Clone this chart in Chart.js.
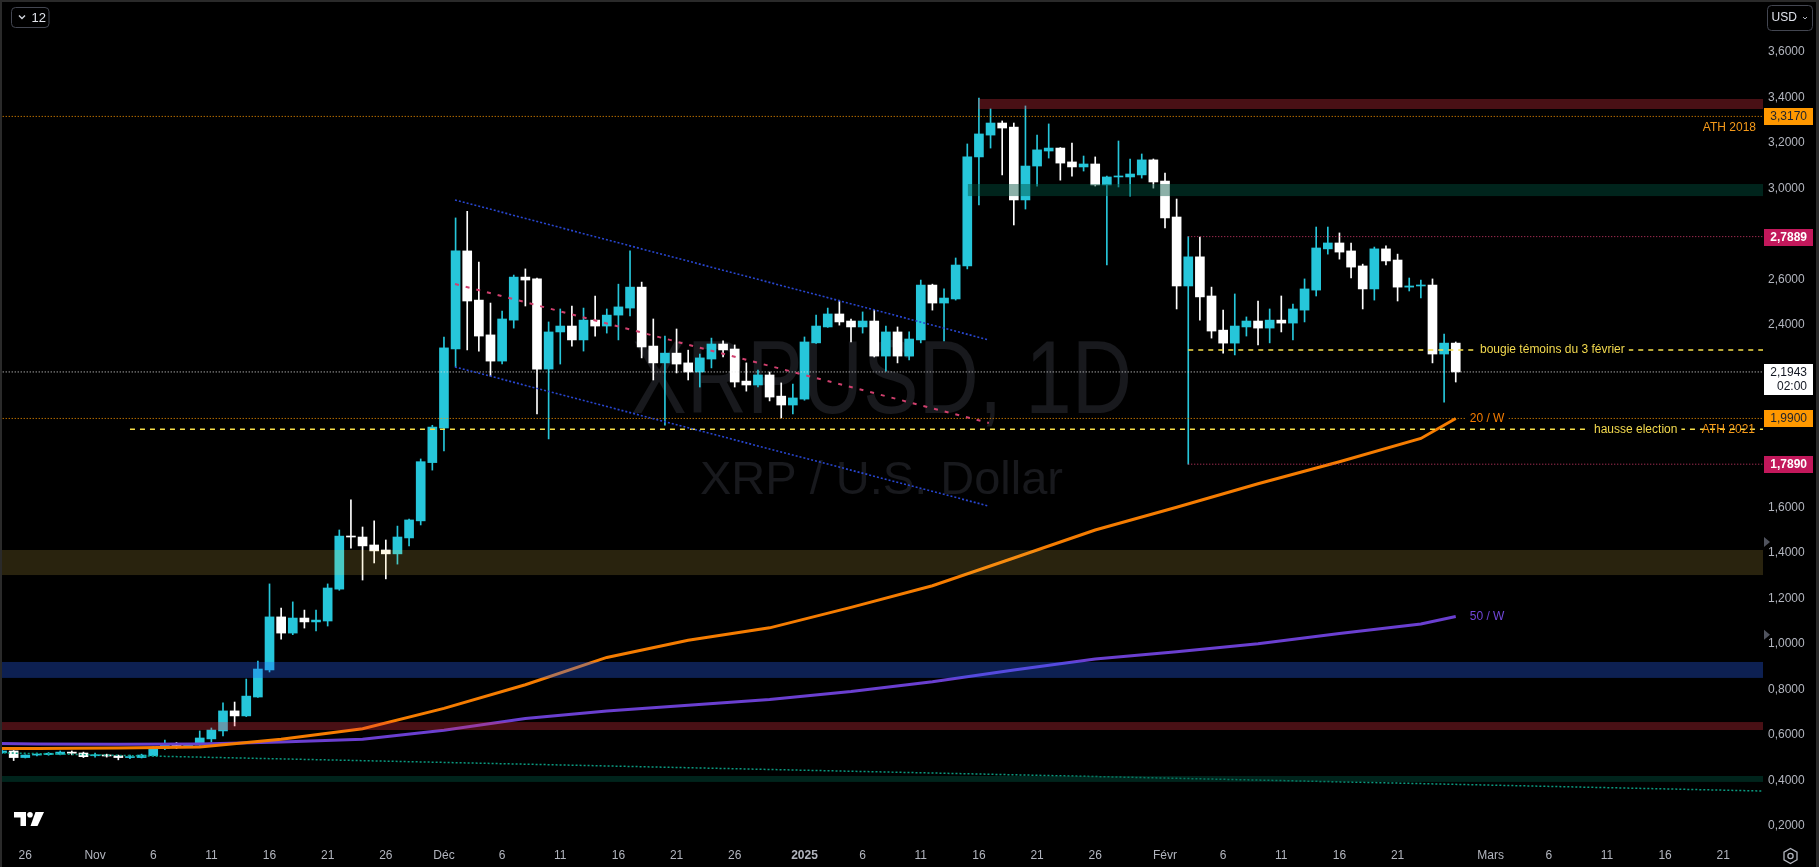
<!DOCTYPE html>
<html>
<head>
<meta charset="utf-8">
<title>XRPUSD 1D</title>
<script src="https://cdn.jsdelivr.net/npm/chart.js@4.4.1/dist/chart.umd.min.js"></script>
<style>
  html, body { margin: 0; padding: 0; background: #000; overflow: hidden; }
  #chart { display: block; }
</style>
</head>
<body>
<canvas id="chart" width="1819" height="867"></canvas>
<script>
// XRPUSD daily, day 0 = 26 oct. 2024 (first candle = 24 oct.)
const firstDay = -2;

const opens = [
  0.521, 0.529, 0.500, 0.511, 0.513, 0.514, 0.524, 0.520, 0.508, 0.511,
  0.508, 0.500, 0.500, 0.508, 0.540, 0.558, 0.549, 0.555, 0.582, 0.617,
  0.705, 0.683, 0.766, 0.885, 1.118, 1.047, 1.113, 1.096, 1.100, 1.240,
  1.473, 1.469, 1.434, 1.412, 1.395, 1.465, 1.540, 1.796, 1.948, 2.296,
  2.726, 2.510, 2.357, 2.242, 2.422, 2.611, 2.603, 2.207, 2.370, 2.396,
  2.335, 2.422, 2.396, 2.444, 2.475, 2.567, 2.308, 2.234, 2.277, 2.234,
  2.194, 2.251, 2.317, 2.295, 2.154, 2.137, 2.181, 2.088, 2.049, 2.075,
  2.322, 2.392, 2.449, 2.418, 2.392, 2.418, 2.264, 2.370, 2.264, 2.335,
  2.576, 2.497, 2.515, 2.660, 3.139, 3.235, 3.288, 3.270, 2.950, 3.099,
  3.165, 3.178, 3.117, 3.095, 3.108, 3.016, 3.051, 3.051, 3.060, 3.126,
  3.033, 2.875, 2.572, 2.700, 2.528, 2.378, 2.321, 2.392, 2.418, 2.387,
  2.422, 2.409, 2.466, 2.554, 2.735, 2.761, 2.726, 2.660, 2.559, 2.735,
  2.686, 2.567, 2.572, 2.576, 2.273, 2.321
];
const highs = [
  0.532, 0.531, 0.512, 0.520, 0.522, 0.529, 0.529, 0.524, 0.520, 0.515,
  0.511, 0.511, 0.515, 0.548, 0.577, 0.566, 0.562, 0.617, 0.630, 0.740,
  0.744, 0.845, 0.924, 1.263, 1.157, 1.184, 1.148, 1.148, 1.263, 1.500,
  1.632, 1.513, 1.540, 1.456, 1.517, 1.548, 1.812, 1.960, 2.348, 2.871,
  2.900, 2.677, 2.497, 2.462, 2.620, 2.647, 2.607, 2.414, 2.471, 2.484,
  2.475, 2.528, 2.471, 2.580, 2.726, 2.589, 2.427, 2.352, 2.383, 2.290,
  2.273, 2.343, 2.331, 2.313, 2.234, 2.203, 2.194, 2.146, 2.141, 2.348,
  2.444, 2.475, 2.506, 2.427, 2.458, 2.466, 2.396, 2.392, 2.370, 2.598,
  2.580, 2.559, 2.695, 3.196, 3.398, 3.350, 3.297, 3.288, 3.363, 3.235,
  3.284, 3.180, 3.200, 3.143, 3.139, 3.055, 3.209, 3.130, 3.152, 3.130,
  3.068, 2.954, 2.7889, 2.787, 2.567, 2.466, 2.537, 2.436, 2.506, 2.471,
  2.528, 2.493, 2.603, 2.831, 2.831, 2.805, 2.761, 2.668, 2.743, 2.748,
  2.712, 2.607, 2.598, 2.603, 2.361, 2.326
];
const lows = [
  0.518, 0.487, 0.498, 0.507, 0.510, 0.512, 0.512, 0.500, 0.502, 0.502,
  0.490, 0.495, 0.498, 0.506, 0.535, 0.540, 0.545, 0.553, 0.568, 0.595,
  0.639, 0.680, 0.764, 0.876, 1.020, 1.040, 1.069, 1.056, 1.078, 1.235,
  1.420, 1.280, 1.355, 1.285, 1.350, 1.430, 1.522, 1.763, 1.847, 2.216,
  2.291, 2.286, 2.176, 2.229, 2.387, 2.484, 2.010, 1.900, 2.229, 2.308,
  2.286, 2.352, 2.365, 2.335, 2.440, 2.256, 2.159, 1.960, 2.190, 2.159,
  2.128, 2.212, 2.260, 2.128, 2.110, 2.128, 2.067, 1.992, 2.010, 2.070,
  2.320, 2.390, 2.400, 2.326, 2.365, 2.260, 2.198, 2.234, 2.247, 2.322,
  2.466, 2.331, 2.510, 2.647, 2.928, 3.178, 3.060, 2.840, 2.910, 3.011,
  3.134, 3.037, 3.055, 3.077, 3.011, 2.664, 3.007, 2.967, 3.046, 3.002,
  2.827, 2.471, 1.789, 2.422, 2.343, 2.277, 2.269, 2.352, 2.313, 2.322,
  2.370, 2.335, 2.414, 2.528, 2.712, 2.690, 2.607, 2.471, 2.510, 2.664,
  2.506, 2.550, 2.519, 2.234, 2.062, 2.150
];
const closes = [
  0.529, 0.500, 0.511, 0.515, 0.519, 0.524, 0.519, 0.504, 0.512, 0.507,
  0.500, 0.504, 0.511, 0.543, 0.555, 0.553, 0.560, 0.586, 0.621, 0.705,
  0.683, 0.770, 0.889, 1.118, 1.047, 1.113, 1.096, 1.104, 1.245, 1.473,
  1.469, 1.430, 1.408, 1.395, 1.469, 1.544, 1.800, 1.952, 2.300, 2.726,
  2.506, 2.352, 2.242, 2.427, 2.611, 2.598, 2.207, 2.370, 2.396, 2.335,
  2.422, 2.396, 2.444, 2.480, 2.567, 2.304, 2.234, 2.277, 2.229, 2.194,
  2.256, 2.317, 2.291, 2.150, 2.137, 2.181, 2.084, 2.049, 2.080, 2.326,
  2.396, 2.449, 2.414, 2.392, 2.418, 2.264, 2.370, 2.264, 2.339, 2.576,
  2.497, 2.519, 2.664, 3.139, 3.240, 3.288, 3.266, 2.950, 3.099, 3.170,
  3.178, 3.112, 3.095, 3.108, 3.016, 3.051, 3.055, 3.064, 3.126, 3.029,
  2.871, 2.572, 2.700, 2.524, 2.374, 2.321, 2.396, 2.418, 2.387, 2.422,
  2.409, 2.471, 2.559, 2.739, 2.761, 2.721, 2.655, 2.559, 2.735, 2.682,
  2.567, 2.572, 2.576, 2.273, 2.321, 2.1943
];

// weekly moving averages (20 W / 50 W), one knot per week
const maDays = [-2.2, 1, 8, 15, 22, 29, 36, 43, 50, 57, 64, 71, 78, 85, 92, 99, 106, 113, 120, 123];
const ma20w = [0.540, 0.540, 0.542, 0.546, 0.580, 0.627, 0.716, 0.820, 0.940, 1.015, 1.070, 1.160, 1.255, 1.377, 1.500, 1.600, 1.703, 1.800, 1.902, 1.990];
const ma50w = [0.562, 0.560, 0.559, 0.560, 0.568, 0.580, 0.620, 0.672, 0.705, 0.730, 0.755, 0.790, 0.833, 0.885, 0.933, 0.965, 1.000, 1.045, 1.087, 1.120];

// descending channel (Dec 1 -> Jan 16)
const channelDays = [36.95, 82.85];
const channelUpper = [2.950, 2.335];
const channelMid = [2.581, 1.970];
const channelLower = [2.216, 1.605];

// long teal trend line
const trendDays = [-2.2, 149.4];
const trendPrices = [0.521, 0.353];

// horizontal levels : price, first day
const levelPrices = [3.317, 2.7889, 2.1943, 1.99, 1.789, 2.291, 1.942];
const levelStarts = [-2.2, 100, -2.2, -2.2, 100, 100, 9];

// zones : top, bottom, first day
const zoneTops = [3.3935, 3.020, 1.412, 0.920, 0.656, 0.419];
const zoneBottoms = [3.3496, 2.967, 1.302, 0.850, 0.621, 0.393];
const zoneStarts = [81.95, 81.05, -2.2, -2.2, -2.2, -2.2];

// axes
const xTickDays = [0, 6, 11, 16, 21, 26, 31, 36, 41, 46, 51, 56, 61, 67, 72, 77, 82, 87, 92, 98, 103, 108, 113, 118, 126, 131, 136, 141, 146];
const xTickLabels = ['26', 'Nov', '6', '11', '16', '21', '26', 'Déc', '6', '11', '16', '21', '26', '2025', '6', '11', '16', '21', '26', 'Févr', '6', '11', '16', '21', 'Mars', '6', '11', '16', '21'];
const yTickValues = [3.6, 3.4, 3.2, 3.0, 2.6, 2.4, 1.6, 1.4, 1.2, 1.0, 0.8, 0.6, 0.4, 0.2];
const scaleMarkers = [1.447, 1.04];

const FONT = '"Liberation Sans", Arial, sans-serif';
const UP = '#26c6da';
const DOWN = '#ffffff';
const levelStyles = [
  { color: '#ff9800', dash: [1, 2], width: 1 },
  { color: '#d23a6a', dash: [1, 2], width: 1 },
  { color: '#e8e8e8', dash: [1, 2], width: 1 },
  { color: '#ff9800', dash: [1, 2], width: 1 },
  { color: '#d23a6a', dash: [1, 2], width: 1 },
  { color: '#f7e04a', dash: [5, 5], width: 1.5 },
  { color: '#f7e04a', dash: [5, 5], width: 1.5 }
];
const zoneColors = [
  'rgba(242,54,69,0.30)', 'rgba(0,80,62,0.45)', 'rgba(255,220,90,0.16)',
  'rgba(41,98,255,0.32)', 'rgba(242,54,69,0.30)', 'rgba(0,80,62,0.45)'
];

const X_MIN = -2.175, X_MAX = 149.42;
const Y_MIN = 0.1378, Y_MAX = 3.8285;

const days = opens.map((_, i) => firstDay + i);
const candleColors = opens.map((o, i) => (closes[i] >= o ? UP : DOWN));
const fmt = v => v.toFixed(4).replace('.', ',');
const pts = (xs, ys) => xs.map((x, i) => ({ x: x, y: ys[i] }));

const datasets = [];

// drawings on top
datasets.push({ type: 'line', data: pts(channelDays, channelUpper), borderColor: '#2846d0', borderWidth: 1.6, borderDash: [2, 2], pointRadius: 0, order: 0 });
datasets.push({ type: 'line', data: pts(channelDays, channelLower), borderColor: '#2846d0', borderWidth: 1.6, borderDash: [2, 2], pointRadius: 0, order: 0 });
datasets.push({ type: 'line', data: pts(channelDays, channelMid), borderColor: '#d0406e', borderWidth: 2, borderDash: [4, 7], pointRadius: 0, order: 0 });
datasets.push({ type: 'line', data: pts(trendDays, trendPrices), borderColor: '#0a9a80', borderWidth: 1.5, borderDash: [2, 2], pointRadius: 0, order: 0 });
levelPrices.forEach((p, i) => {
  datasets.push({
    type: 'line',
    data: [{ x: levelStarts[i], y: p }, { x: X_MAX, y: p }],
    borderColor: levelStyles[i].color,
    borderWidth: levelStyles[i].width,
    borderDash: levelStyles[i].dash,
    pointRadius: 0,
    order: 0
  });
});

// moving averages
datasets.push({ type: 'line', data: pts(maDays, ma20w), borderColor: '#f57c00', borderWidth: 3, pointRadius: 0, order: 1 });
datasets.push({ type: 'line', data: pts(maDays, ma50w), borderColor: '#6a3fd0', borderWidth: 3, pointRadius: 0, order: 1 });

// candles : bodies + wicks
datasets.push({
  type: 'bar',
  data: days.map((d, i) => ({ x: d, y: [opens[i], closes[i]] })),
  backgroundColor: candleColors,
  barThickness: 9,
  minBarLength: 1,
  grouped: false,
  order: 2
});
datasets.push({
  type: 'bar',
  data: days.map((d, i) => ({ x: d, y: [lows[i], highs[i]] })),
  backgroundColor: candleColors,
  barThickness: 1,
  grouped: false,
  order: 3
});

function stretchedText(ctx, text, font, cx, baseline, targetWidth) {
  ctx.font = font;
  const w = ctx.measureText(text).width;
  ctx.save();
  ctx.translate(cx - targetWidth / 2, baseline);
  ctx.scale(targetWidth / w, 1);
  ctx.textAlign = 'left';
  ctx.textBaseline = 'alphabetic';
  ctx.fillText(text, 0, 0);
  ctx.restore();
}

function label(ctx, text, x, y, color, align, knockout) {
  ctx.font = '12px ' + FONT;
  ctx.textAlign = align;
  ctx.textBaseline = 'middle';
  if (knockout) {
    const w = ctx.measureText(text).width;
    const left = align === 'right' ? x - w : x;
    ctx.fillStyle = '#000';
    ctx.fillRect(left - 4, y - 6, w + 8, 12);
  }
  ctx.fillStyle = color;
  ctx.fillText(text, x, y);
}

function priceBox(ctx, area, y, text, bg, fg, bold) {
  ctx.fillStyle = bg;
  ctx.fillRect(area.right + 1, Math.round(y) - 8, 49, 17);
  ctx.fillStyle = fg;
  ctx.font = (bold ? 'bold ' : '') + '12px ' + FONT;
  ctx.textAlign = 'right';
  ctx.textBaseline = 'middle';
  ctx.fillText(text, area.right + 44, Math.round(y) + 0.5);
}

function roundRect(ctx, x, y, w, h, r) {
  ctx.beginPath();
  ctx.moveTo(x + r, y);
  ctx.arcTo(x + w, y, x + w, y + h, r);
  ctx.arcTo(x + w, y + h, x, y + h, r);
  ctx.arcTo(x, y + h, x, y, r);
  ctx.arcTo(x, y, x + w, y, r);
  ctx.closePath();
}

const overlay = {
  id: 'overlay',
  beforeDraw(chart) {
    const ctx = chart.ctx;
    ctx.save();
    ctx.fillStyle = '#000';
    ctx.fillRect(0, 0, chart.width, chart.height);
    ctx.restore();
  },
  beforeDatasetsDraw(chart) {
    const ctx = chart.ctx, a = chart.chartArea;
    const cx = (a.left + a.right) / 2, cy = (a.top + a.bottom) / 2;
    ctx.save();
    ctx.fillStyle = '#18191d';
    stretchedText(ctx, 'XRPUSD, 1D', '104px ' + FONT, cx, cy - 7, 501);
    stretchedText(ctx, 'XRP / U.S. Dollar', '46px ' + FONT, cx, cy + 74, 363);
    ctx.restore();
  },
  afterDatasetsDraw(chart) {
    const ctx = chart.ctx, a = chart.chartArea;
    const xs = chart.scales.x, ys = chart.scales.y;
    ctx.save();
    ctx.beginPath();
    ctx.rect(a.left, a.top, a.right - a.left, a.bottom - a.top);
    ctx.clip();
    zoneTops.forEach((top, i) => {
      const x0 = Math.max(a.left, xs.getPixelForValue(zoneStarts[i]));
      const y0 = ys.getPixelForValue(top);
      const y1 = ys.getPixelForValue(zoneBottoms[i]);
      ctx.fillStyle = zoneColors[i];
      ctx.fillRect(x0, y0, a.right - x0, y1 - y0);
    });
    ctx.restore();
  },
  afterDraw(chart) {
    const ctx = chart.ctx, a = chart.chartArea;
    const xs = chart.scales.x, ys = chart.scales.y;
    const lastX = xs.getPixelForValue(days[days.length - 1]);
    ctx.save();

    // annotations
    label(ctx, 'ATH 2018', a.right - 7, ys.getPixelForValue(levelPrices[0]) + 11, '#f59a1a', 'right', false);
    label(ctx, 'bougie témoins du 3 février', 1480, ys.getPixelForValue(levelPrices[5]), '#f2d94e', 'left', true);
    label(ctx, 'hausse election', 1594, ys.getPixelForValue(levelPrices[6]), '#f2d94e', 'left', true);
    label(ctx, 'ATH 2021', a.right - 8, ys.getPixelForValue(levelPrices[6]), '#f59a1a', 'right', false);
    label(ctx, '20 / W', lastX + 14, ys.getPixelForValue(ma20w[ma20w.length - 1]), '#f57c00', 'left', true);
    label(ctx, '50 / W', lastX + 14, ys.getPixelForValue(ma50w[ma50w.length - 1]), '#7046d8', 'left', false);

    // price scale labels
    priceBox(ctx, a, ys.getPixelForValue(levelPrices[0]), fmt(levelPrices[0]), '#ff9800', '#1e222d', false);
    priceBox(ctx, a, ys.getPixelForValue(levelPrices[1]), fmt(levelPrices[1]), '#c2185b', '#ffffff', true);
    priceBox(ctx, a, ys.getPixelForValue(levelPrices[3]), fmt(levelPrices[3]), '#ff9800', '#1e222d', false);
    priceBox(ctx, a, ys.getPixelForValue(levelPrices[4]), fmt(levelPrices[4]), '#c2185b', '#ffffff', true);
    const yLast = Math.round(ys.getPixelForValue(levelPrices[2]));
    ctx.fillStyle = '#ffffff';
    ctx.fillRect(a.right + 1, yLast - 8, 49, 31);
    ctx.fillStyle = '#131722';
    ctx.font = '12px ' + FONT;
    ctx.textAlign = 'right';
    ctx.textBaseline = 'middle';
    ctx.fillText(fmt(levelPrices[2]), a.right + 44, yLast + 0.5);
    ctx.fillText('02:00', a.right + 44, yLast + 14.5);

    // small scale markers
    ctx.fillStyle = '#50535e';
    scaleMarkers.forEach(p => {
      const y = ys.getPixelForValue(p);
      ctx.beginPath();
      ctx.moveTo(a.right + 1, y - 5);
      ctx.lineTo(a.right + 7, y);
      ctx.lineTo(a.right + 1, y + 5);
      ctx.closePath();
      ctx.fill();
    });

    // top-left interval button
    ctx.strokeStyle = '#434651';
    ctx.lineWidth = 1;
    roundRect(ctx, 11.5, 7.5, 37.5, 20, 4);
    ctx.stroke();
    ctx.strokeStyle = '#d1d4dc';
    ctx.lineWidth = 1.4;
    ctx.beginPath();
    ctx.moveTo(19, 15.5); ctx.lineTo(22, 18.5); ctx.lineTo(25, 15.5);
    ctx.stroke();
    ctx.fillStyle = '#e0e3eb';
    ctx.font = '13px ' + FONT;
    ctx.textAlign = 'left';
    ctx.textBaseline = 'middle';
    ctx.fillText('12', 31.5, 18);

    // currency button
    ctx.strokeStyle = '#434651';
    ctx.lineWidth = 1;
    roundRect(ctx, 1767.5, 5.5, 45, 25, 4);
    ctx.stroke();
    ctx.fillStyle = '#e0e3eb';
    ctx.font = '12px ' + FONT;
    ctx.fillText('USD', 1771.5, 18);
    ctx.strokeStyle = '#b2b5be';
    ctx.beginPath();
    ctx.moveTo(1803, 17); ctx.lineTo(1805, 19); ctx.lineTo(1807, 17);
    ctx.stroke();

    // settings icon
    ctx.strokeStyle = '#b2b5be';
    ctx.lineWidth = 1.3;
    ctx.beginPath();
    for (let k = 0; k < 6; k++) {
      const ang = Math.PI / 6 + k * Math.PI / 3;
      const px = 1790.5 + 7.5 * Math.cos(ang), py = 856 + 7.5 * Math.sin(ang);
      if (k === 0) ctx.moveTo(px, py); else ctx.lineTo(px, py);
    }
    ctx.closePath();
    ctx.stroke();
    ctx.beginPath();
    ctx.arc(1790.5, 856, 2.6, 0, Math.PI * 2);
    ctx.stroke();

    // logo
    ctx.fillStyle = '#ffffff';
    ctx.beginPath();
    ctx.moveTo(14, 812); ctx.lineTo(26, 812); ctx.lineTo(26, 826); ctx.lineTo(20.5, 826);
    ctx.lineTo(20.5, 817.5); ctx.lineTo(14, 817.5); ctx.closePath();
    ctx.fill();
    ctx.beginPath();
    ctx.arc(30, 814.8, 2.8, 0, Math.PI * 2);
    ctx.fill();
    ctx.beginPath();
    ctx.moveTo(35.5, 812); ctx.lineTo(44, 812); ctx.lineTo(37.5, 826); ctx.lineTo(30.5, 826);
    ctx.closePath();
    ctx.fill();

    // frame
    ctx.fillStyle = '#2a2a2a';
    ctx.fillRect(0, 0, chart.width, 2);
    ctx.fillRect(0, 0, 2, chart.height);
    ctx.fillRect(chart.width - 3, 0, 3, chart.height);
    ctx.restore();
  }
};

new Chart(document.getElementById('chart'), {
  type: 'bar',
  data: { datasets: datasets },
  options: {
    responsive: false,
    devicePixelRatio: 1,
    animation: false,
    events: [],
    layout: { padding: 0 },
    plugins: {
      legend: { display: false },
      tooltip: { enabled: false }
    },
    scales: {
      x: {
        type: 'linear',
        min: X_MIN,
        max: X_MAX,
        offset: false,
        grid: { display: false },
        border: { display: false },
        afterFit: axis => {
          axis.height = 27;
          axis.paddingLeft = 0; axis.paddingRight = 0;
          axis.paddingTop = 0; axis.paddingBottom = 0;
        },
        afterBuildTicks: axis => { axis.ticks = xTickDays.map(v => ({ value: v })); },
        ticks: {
          autoSkip: false,
          maxRotation: 0,
          padding: 0,
          color: '#b2b5be',
          font: c => ({ family: FONT, size: 12, weight: xTickLabels[c.index] === '2025' ? 'bold' : 'normal' }),
          callback: (v, i) => xTickLabels[i]
        }
      },
      y: {
        type: 'linear',
        position: 'right',
        min: Y_MIN,
        max: Y_MAX,
        grid: { display: false, drawTicks: false },
        border: { display: false },
        afterFit: axis => {
          axis.width = 56;
          axis.paddingLeft = 0; axis.paddingRight = 0;
          axis.paddingTop = 0; axis.paddingBottom = 0;
        },
        afterBuildTicks: axis => { axis.ticks = yTickValues.map(v => ({ value: v })); },
        ticks: {
          crossAlign: 'near',
          padding: 5,
          color: '#b2b5be',
          font: { family: FONT, size: 12 },
          callback: v => fmt(v)
        }
      }
    }
  },
  plugins: [overlay]
});
</script>
</body>
</html>
